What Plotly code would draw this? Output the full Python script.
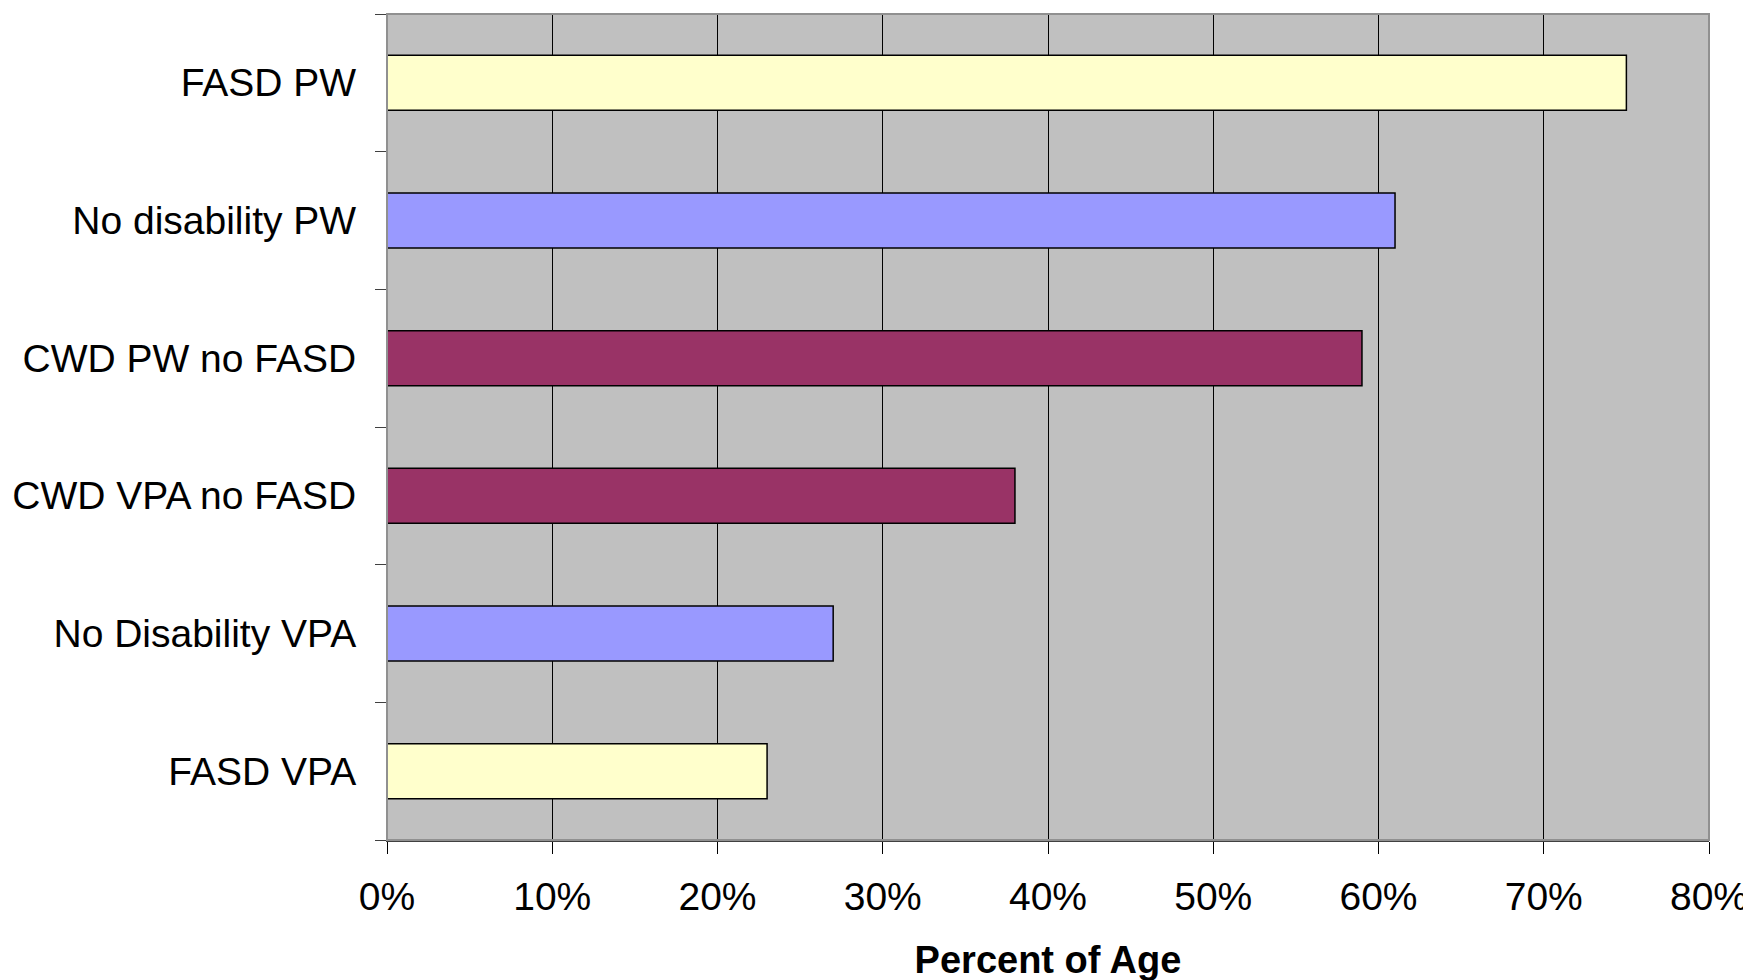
import plotly.graph_objects as go

# categories listed bottom to top
groups = ['FASD VPA', 'No Disability VPA', 'CWD VPA no FASD',
          'CWD PW no FASD', 'No disability PW', 'FASD PW']
pct_of_age = [0.23, 0.27, 0.38, 0.59, 0.61, 0.75]
bar_colors = ['#FFFFCC', '#9999FF', '#993366', '#993366', '#9999FF', '#FFFFCC']

x_ticks = [0, 0.1, 0.2, 0.3, 0.4, 0.5, 0.6, 0.7, 0.8]
x_labels = ['0%', '10%', '20%', '30%', '40%', '50%', '60%', '70%', '80%']

font_family = 'Liberation Sans, Arial, sans-serif'

fig = go.Figure()
fig.add_trace(go.Bar(
    x=pct_of_age, y=groups, orientation='h',
    marker=dict(color=bar_colors, line=dict(color='black', width=1.5)),
    showlegend=False, hoverinfo='x+y',
))

# page body adds an 8px offset, margins account for it
fig.update_layout(
    width=1751, height=980,
    margin=dict(l=379, r=50, t=6, b=148),
    paper_bgcolor='white', plot_bgcolor='#C0C0C0',
    bargap=0.6,
    font=dict(family=font_family, size=39, color='black'),
    xaxis=dict(
        range=[0, 0.8], tickvals=x_ticks, ticktext=x_labels,
        showgrid=True, gridcolor='black', gridwidth=1,
        ticks='outside', ticklen=12, tickcolor='black',
        showline=True, linecolor='#404040', linewidth=2, mirror=False,
        zeroline=False, ticklabelstandoff=9, automargin=False,
        title=dict(text='<b>Percent of Age</b>', standoff=30,
                   font=dict(size=38)),
    ),
    yaxis=dict(
        type='category', categoryorder='array', categoryarray=groups,
        tickson='boundaries', ticks='outside', ticklen=11, tickcolor='#404040',
        showgrid=False, showline=True, linecolor='#404040', linewidth=1,
        ticklabelstandoff=22, automargin=False,
    ),
    shapes=[dict(type='rect', xref='paper', yref='paper', x0=0, x1=1, y0=0, y1=1,
                 line=dict(color='#909090', width=2), layer='above')],
)

fig.write_html('out.html')
